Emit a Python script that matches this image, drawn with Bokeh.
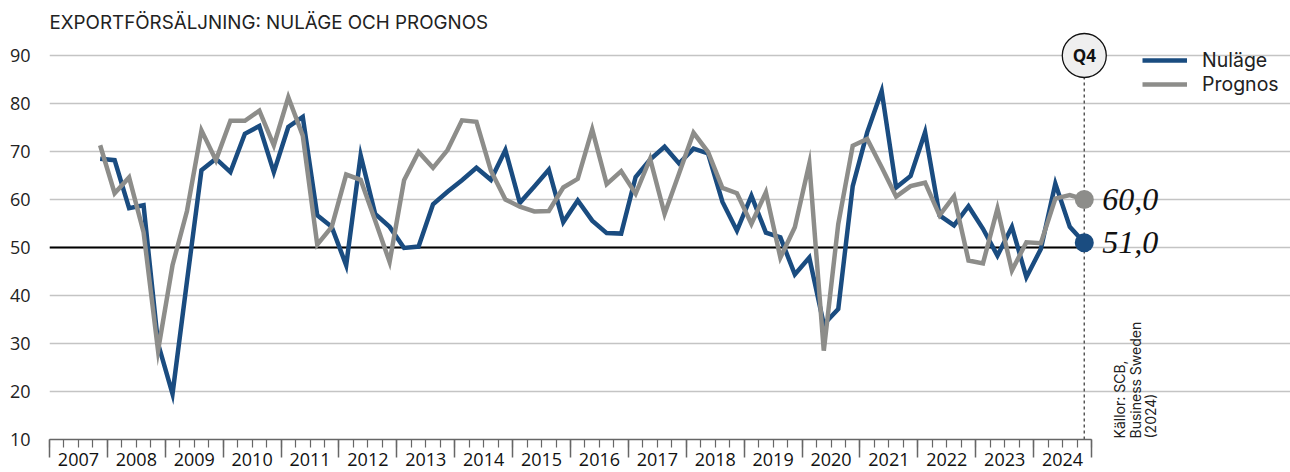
import math
from bokeh.plotting import figure
from bokeh.models import (Range1d, LinearAxis, FixedTicker, Label, Legend,
                          LegendItem, ColumnDataSource)
from bokeh.core.properties import value
from bokeh.embed import file_html
from bokeh.resources import INLINE

# ---------------- data ----------------
TITLE = "EXPORTFÖRSÄLJNING: NULÄGE OCH PROGNOS"
YEARS = ["2007", "2008", "2009", "2010", "2011", "2012", "2013", "2014", "2015",
         "2016", "2017", "2018", "2019", "2020", "2021", "2022", "2023", "2024"]
FIRST_YEAR, FIRST_QUARTER = 2007, 4          # first observation: 2007 Q4
Y_TICKS = [10, 20, 30, 40, 50, 60, 70, 80, 90]
REF_LEVEL = 50
CURRENT_LABEL = "Q4"
SOURCE = "Källor: SCB,\nBusiness Sweden\n(2024)"

NULAGE = [68.5, 68.2, 58.2, 58.8, 30.0, 19.5, 43.0, 66.1, 68.5, 65.7, 73.7, 75.3,
          65.7, 75.1, 77.2, 56.7, 54.3, 46.3, 69.2, 57.0, 54.3, 49.9, 50.2, 59.0,
          61.6, 64.0, 66.6, 64.1, 70.3, 59.3, 62.7, 66.2, 55.3, 59.8, 55.6, 53.0,
          52.9, 64.7, 68.3, 71.0, 67.5, 70.6, 69.6, 59.5, 53.5, 60.8, 53.1, 52.1,
          44.4, 47.9, 34.0, 37.2, 62.8, 74.0, 82.6, 62.5, 64.9, 74.0, 56.7, 54.6,
          58.6, 53.9, 48.3, 54.3, 43.8, 49.7, 63.3, 54.3, 51.0]
PROGNOS = [71.3, 61.3, 64.6, 53.2, 28.5, 46.3, 57.6, 74.4, 68.2, 76.4, 76.4, 78.5,
           71.3, 81.3, 73.3, 50.6, 54.3, 65.2, 64.1, 55.6, 47.0, 64.0, 69.9, 66.6,
           70.3, 76.5, 76.2, 66.0, 60.0, 58.5, 57.5, 57.6, 62.5, 64.3, 74.6, 63.2,
           65.9, 61.2, 68.5, 57.0, 65.4, 73.9, 69.9, 62.4, 61.3, 54.9, 61.5, 47.9,
           54.2, 67.5, 28.5, 54.9, 71.2, 72.6, 66.7, 60.6, 62.8, 63.5, 56.7, 60.7,
           47.3, 46.7, 58.1, 45.2, 51.1, 50.9, 60.2, 60.9, 60.0]

# ---------------- style ----------------
BLUE = "#1a4c80"
GRAY = "#8d8d8a"
FONT = "Open Sans"
WIDE_FONT = "Inter"

# quarter positions (centre of each quarter, in years)
x0 = FIRST_YEAR + (FIRST_QUARTER - 0.5) / 4
xs = [x0 + 0.25 * k for k in range(len(NULAGE))]
x_last = xs[-1]
year_start = int(YEARS[0])
year_end = int(YEARS[-1]) + 1

W, H = 1290, 472
LEFT, BOTTOM = 49, 33
px_per_year = 57.89
px_per_unit = 4.8
frame_w = W - LEFT
frame_h = H - BOTTOM
y_top = Y_TICKS[0] + frame_h / px_per_unit

p = figure(width=W, height=H, output_backend="svg", toolbar_location=None,
           x_range=Range1d(year_start, year_start + frame_w / px_per_year),
           y_range=Range1d(Y_TICKS[0], y_top), x_axis_type=None,
           min_border_left=LEFT, min_border_right=0, min_border_top=0,
           min_border_bottom=BOTTOM)
p.outline_line_color = None
p.background_fill_color = "white"

# y axis
yax = p.yaxis[0]
yax.ticker = FixedTicker(ticks=Y_TICKS)
yax.axis_line_color = None
yax.major_tick_line_color = None
yax.minor_tick_line_color = None
yax.major_tick_out = 0
yax.major_tick_in = 0
yax.minor_tick_out = 0
yax.major_label_standoff = 19
yax.major_label_text_font = FONT
yax.major_label_text_font_size = "18px"
yax.major_label_text_color = "#222222"

p.ygrid.ticker = FixedTicker(ticks=Y_TICKS[1:])
p.ygrid.grid_line_color = "#c4c4c4"
p.ygrid.grid_line_width = 1.5
p.ygrid.bounds = (year_start - 0.05, year_end)

# x axes: ticks (years + quarters) and centred year labels
year_bounds = list(range(year_start, year_end + 1))
quarter_bounds = [year_start + 0.25 * k for k in range(4 * (year_end - year_start) + 1)]
tick_axis = LinearAxis(
    ticker=FixedTicker(ticks=year_bounds, minor_ticks=quarter_bounds),
    bounds=(year_start, year_end),
    axis_line_color="#666666", axis_line_width=1.5,
    major_tick_line_color="#666666", major_tick_line_width=1.5,
    major_tick_out=18, major_tick_in=0,
    minor_tick_line_color="#666666", minor_tick_line_width=1.2,
    minor_tick_out=8, minor_tick_in=0,
    major_label_text_font_size="0px", major_label_text_color=None,
    major_label_standoff=0)
label_axis = LinearAxis(
    ticker=FixedTicker(ticks=[int(y) + 0.5 for y in YEARS]),
    major_label_overrides={int(y) + 0.5: y for y in YEARS},
    axis_line_color=None, major_tick_line_color=None, minor_tick_line_color=None,
    major_tick_out=0, major_tick_in=0, minor_tick_out=0, minor_tick_in=0,
    major_label_standoff=-5,
    major_label_text_font=FONT, major_label_text_font_size="18px",
    major_label_text_color="#111111")
p.add_layout(tick_axis, "below")
p.add_layout(label_axis, "below")

# current-quarter dashed marker line
p.segment(x0=[x_last], y0=[Y_TICKS[0]], x1=[x_last], y1=[Y_TICKS[-1]],
          line_color="#555555", line_width=1.5, line_dash="3 3")

# reference line at 50
p.line(x=[year_start, x_last], y=[REF_LEVEL, REF_LEVEL], line_color="#000000",
       line_width=2)

src = ColumnDataSource(dict(x=xs, nulage=NULAGE, prognos=PROGNOS))
r1 = p.line("x", "nulage", source=src, line_color=BLUE, line_width=4.5,
            line_join="miter")
r2 = p.line("x", "prognos", source=src, line_color=GRAY, line_width=4.5,
            line_join="miter")

# end markers
p.scatter(x=[x_last], y=[PROGNOS[-1]], size=19, fill_color=GRAY, line_color=None)
p.scatter(x=[x_last], y=[NULAGE[-1]], size=19, fill_color=BLUE, line_color=None)

def fmt(v):
    return f"{v:.1f}".replace(".", ",")

p.text(x=[x_last, x_last], y=[PROGNOS[-1], NULAGE[-1]],
       text=[fmt(PROGNOS[-1]), fmt(NULAGE[-1])], x_offset=18,
       text_baseline="middle", text_align="left",
       text_font=value("Liberation Serif"), text_font_style="italic",
       text_font_size="32px", text_color="#111111")

# Q4 badge
p.scatter(x=[x_last], y=[Y_TICKS[-1]], size=44, fill_color="#efefef",
          line_color="#111111", line_width=1.3)
p.text(x=[x_last], y=[Y_TICKS[-1]], text=[CURRENT_LABEL], text_align="center",
       text_baseline="middle", text_font=value(FONT), text_font_style="bold",
       text_font_size="17px", text_color="#111111")

# title
p.add_layout(Label(x=year_start, y=y_top - 22 / px_per_unit, x_offset=0, text=TITLE,
                   text_font=WIDE_FONT, text_font_size="18.8px", text_color="#222222",
                   text_baseline="middle", text_align="left"))

# source (rotated)
p.add_layout(Label(x=x_last, y=Y_TICKS[0], x_offset=27, y_offset=1, text=SOURCE,
                   angle=math.pi / 2, text_font=WIDE_FONT, text_font_size="14px",
                   text_color="#222222", text_align="left", text_baseline="top",
                   text_line_height=0.9))

legend = Legend(items=[LegendItem(label="Nuläge", renderers=[r1]),
                       LegendItem(label="Prognos", renderers=[r2])],
                location=(1093, 343), orientation="vertical",
                glyph_width=45, glyph_height=22, label_height=22,
                label_standoff=15, spacing=0, padding=0, margin=0,
                border_line_color=None, background_fill_alpha=0,
                label_text_font=WIDE_FONT, label_text_font_size="19.5px",
                label_text_color="#222222")
p.add_layout(legend, "center")

open("out.html", "w").write(file_html(p, INLINE))
